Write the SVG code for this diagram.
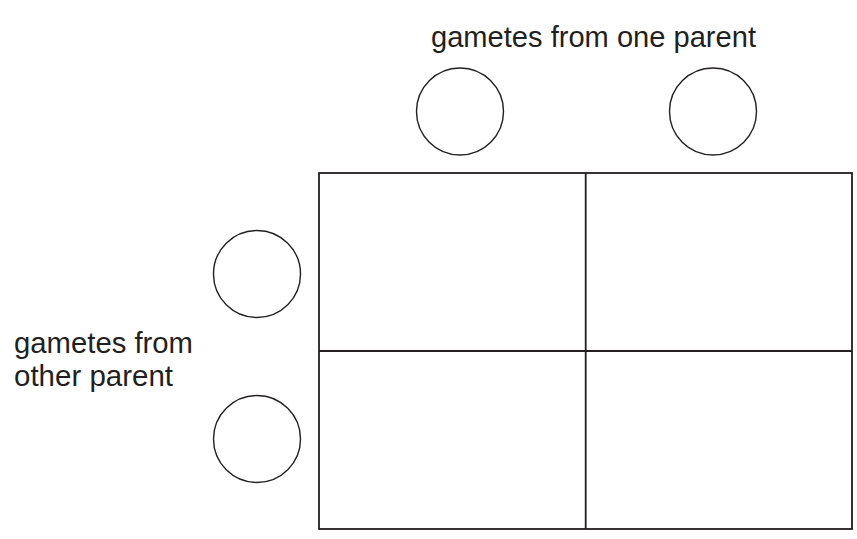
<svg xmlns="http://www.w3.org/2000/svg" width="857" height="539" viewBox="0 0 857 539">
<style>
.lbl{font-family:"Liberation Sans",Arial,sans-serif;font-size:30px;fill:#231f20}
.g{fill:none;stroke:#231f20;stroke-width:1.4}
.grid{fill:none;stroke:#231f20;stroke-width:1.8}
</style>
<rect width="857" height="539" fill="#fff"/>
<g id="label-top"><text class="lbl" x="431" y="47" textLength="325" lengthAdjust="spacingAndGlyphs">gametes from one parent</text></g>
<g id="label-left"><text class="lbl" x="14" y="353" textLength="179" lengthAdjust="spacingAndGlyphs">gametes from</text><text class="lbl" x="14" y="386" textLength="159" lengthAdjust="spacingAndGlyphs">other parent</text></g>
<g id="gamete-top-1"><circle class="g" cx="460" cy="111.5" r="43.5"/></g>
<g id="gamete-top-2"><circle class="g" cx="713" cy="111.5" r="43.5"/></g>
<g id="gamete-left-1"><circle class="g" cx="257" cy="274" r="43.5"/></g>
<g id="gamete-left-2"><circle class="g" cx="257" cy="439" r="43.5"/></g>
<g id="grid">
<rect class="grid" x="319" y="173" width="533" height="356"/>
<line class="grid" x1="585.7" y1="173" x2="585.7" y2="529"/>
<line class="grid" x1="319" y1="351" x2="852" y2="351"/>
</g>
</svg>
